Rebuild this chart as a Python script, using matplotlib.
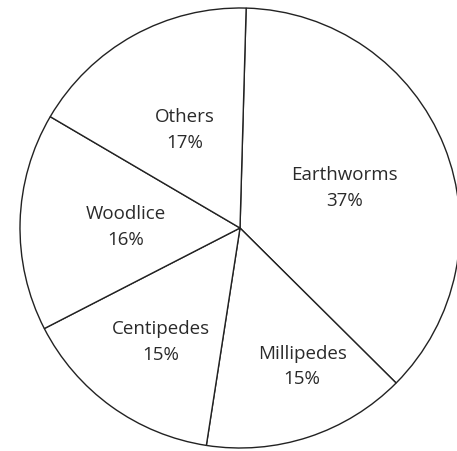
import numpy as np
import matplotlib.pyplot as plt

labels = ["Earthworms", "Millipedes", "Centipedes", "Woodlice", "Others"]
shares = [37, 15, 15, 16, 17]

# label placement: fraction of radius, and a small angular nudge (deg)
label_r = [0.51, 0.69, 0.63, 0.52, 0.51]
label_nudge = [-1, 6, 1, 1, 0.5]

fig = plt.figure(figsize=(4.57, 4.51), dpi=100)
ax = fig.add_axes([20 / 457, 3 / 451, 440 / 457, 440 / 451])

wedges, _ = ax.pie(shares, startangle=88.4, counterclock=False,
                   colors=["white"] * len(shares),
                   wedgeprops=dict(edgecolor="#222222", linewidth=1.0))

for w, name, val, r, dn in zip(wedges, labels, shares, label_r, label_nudge):
    mid = np.deg2rad((w.theta1 + w.theta2) / 2 + dn)
    ax.text(r * np.cos(mid), r * np.sin(mid), f"{name}\n{val}%",
            ha="center", va="center", fontsize=13.5, family="Open Sans",
            color="#2a2a2a", linespacing=1.55)

ax.set_xlim(-1, 1)
ax.set_ylim(-1, 1)
ax.set_aspect("equal")
ax.axis("off")

fig.savefig("out.png", dpi=100)
